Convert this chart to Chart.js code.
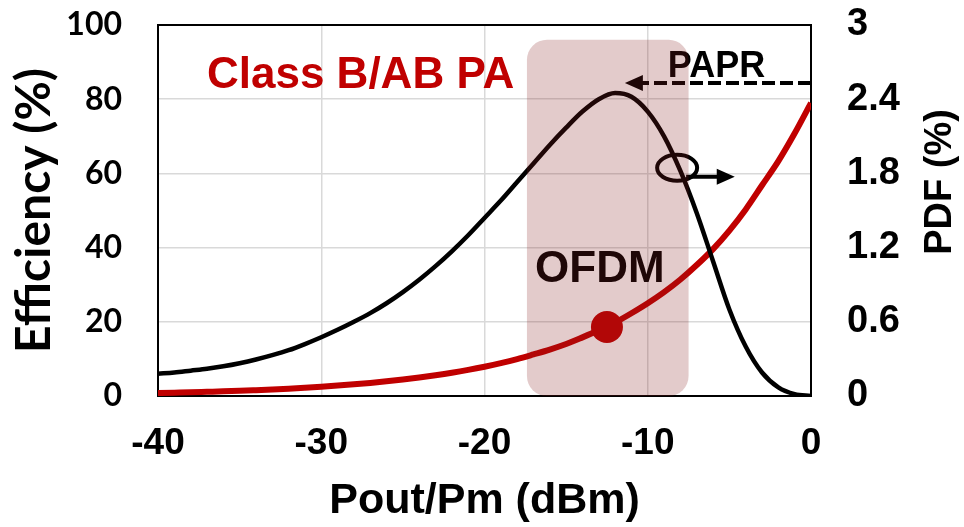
<!DOCTYPE html>
<html>
<head>
<meta charset="utf-8">
<script src="https://cdn.jsdelivr.net/npm/chart.js@4"></script>
<style>
  body { margin: 0; background: #fff; }
  canvas { display: block; }
</style>
</head>
<body>
<canvas id="paChart" width="964" height="527"></canvas>
<script>
// output power back-off (dB below peak)
const pout = [-40, -39, -38, -37, -36, -35, -34, -33, -32, -31, -30, -29, -28, -27, -26, -25, -24, -23, -22, -21,
  -20, -19, -18, -17, -16, -15, -14, -13, -12, -11, -10, -9, -8, -7, -6, -5, -4, -3, -2, -1, 0];

// drain efficiency of the class B/AB PA (%)
const efficiency = [0.79, 0.89, 0.99, 1.12, 1.25, 1.40, 1.58, 1.77, 1.98, 2.23, 2.50, 2.80, 3.15, 3.53, 3.96, 4.44, 4.98, 5.59, 6.27, 7.04,
  7.90, 8.86, 9.95, 11.2, 12.5, 14.0, 15.8, 17.7, 19.8, 22.3, 25.0, 28.0, 31.4, 35.3, 39.6, 44.6, 50.3, 56.8, 63.3, 70.8, 79.0];

// OFDM signal power distribution (%)
const pdf = [0.18, 0.19, 0.205, 0.22, 0.24, 0.265, 0.295, 0.33, 0.37, 0.42, 0.475, 0.535, 0.60, 0.67, 0.75, 0.84, 0.94, 1.05, 1.17, 1.30,
  1.44, 1.58, 1.73, 1.88, 2.03, 2.17, 2.30, 2.40, 2.45, 2.42, 2.30, 2.10, 1.82, 1.48, 1.09, 0.70, 0.40, 0.19, 0.07, 0.015, 0.0];

// average operating point
const avgPoint = { x: -12.5, y: 18.6 };

const xTicks = [-40, -30, -20, -10, 0];
const effTicks = [0, 20, 40, 60, 80, 100];
const pdfTicks = [0, 0.6, 1.2, 1.8, 2.4, 3];

// OFDM band and PAPR arrow, in axis units
const ofdmBand = [-17.4, -7.5];
const ofdmTop = 96;
const paprLevel = 84.4;
const paprTip = -11.4;

const arial = "'Liberation Sans', Arial, sans-serif";
const lato = "Lato, 'Open Sans', sans-serif";

function arrowHead(ctx, tipX, tipY, dir, len, half) {
  ctx.beginPath();
  ctx.moveTo(tipX, tipY);
  ctx.lineTo(tipX - dir * len, tipY - half);
  ctx.lineTo(tipX - dir * len, tipY + half);
  ctx.closePath();
  ctx.fill();
}

const annotations = {
  id: 'annotations',
  beforeDatasetsDraw(chart) {
    const { ctx, chartArea: a } = chart;
    ctx.save();
    ctx.strokeStyle = '#000';
    ctx.lineWidth = 2;
    ctx.strokeRect(a.left, a.top, a.right - a.left, a.bottom - a.top);
    ctx.restore();
  },
  afterDraw(chart) {
    const { ctx, chartArea: a } = chart;
    const x = chart.scales.x, y = chart.scales.y;
    ctx.save();

    // labels
    ctx.textBaseline = 'alphabetic';
    ctx.textAlign = 'left';
    ctx.fillStyle = '#c00000';
    ctx.font = `bold 44px ${arial}`;
    ctx.fillText('Class B/AB PA', x.getPixelForValue(-37.0), y.getPixelForValue(83.0));
    ctx.fillStyle = '#000';
    ctx.font = `bold 36px ${arial}`;
    ctx.fillText('PAPR', x.getPixelForValue(-8.77), y.getPixelForValue(86.0));
    ctx.font = `bold 44px ${arial}`;
    ctx.fillText('OFDM', x.getPixelForValue(-16.9), y.getPixelForValue(30.7));

    // PAPR dashed arrow
    const py = y.getPixelForValue(paprLevel);
    const tip = x.getPixelForValue(paprTip);
    ctx.strokeStyle = '#000';
    ctx.lineWidth = 4;
    ctx.setLineDash([13, 5]);
    ctx.beginPath();
    ctx.moveTo(a.right, py);
    ctx.lineTo(tip + 15, py);
    ctx.stroke();
    ctx.setLineDash([]);
    arrowHead(ctx, tip, py, -1, 18, 8);

    // axis marker: ellipse on the PDF curve pointing to the right axis
    const ex = x.getPixelForValue(-8.2), ey = y.getPixelForValue(61.5);
    ctx.lineWidth = 4;
    ctx.beginPath();
    ctx.ellipse(ex, ey, 20, 13, 0, 0, Math.PI * 2);
    ctx.stroke();
    const ay = ey + 9;
    const aTip = x.getPixelForValue(-4.67);
    ctx.beginPath();
    ctx.moveTo(ex + 9, ay);
    ctx.lineTo(aTip - 15, ay);
    ctx.stroke();
    arrowHead(ctx, aTip, ay, 1, 18, 8);

    // OFDM band shading
    const bx0 = x.getPixelForValue(ofdmBand[0]);
    const bx1 = x.getPixelForValue(ofdmBand[1]);
    const by0 = y.getPixelForValue(ofdmTop);
    ctx.fillStyle = 'rgba(135, 30, 30, 0.23)';
    ctx.beginPath();
    ctx.roundRect(bx0, by0, bx1 - bx0, a.bottom - by0, 20);
    ctx.fill();

    // right axis title, reading bottom to top
    ctx.fillStyle = '#000';
    ctx.font = `bold 38px ${arial}`;
    ctx.textAlign = 'center';
    ctx.textBaseline = 'middle';
    ctx.translate(941, 182);
    ctx.rotate(-Math.PI / 2);
    ctx.fillText('PDF (%)', 0, 0);
    ctx.restore();
  }
};

function fixedTicks(list) {
  return scale => { scale.ticks = list.map(v => ({ value: v })); };
}

function fitWidth(w) {
  return s => {
    s.width = w;
    s.paddingTop = 0;
    s.paddingBottom = 0;
  };
}

new Chart(document.getElementById('paChart'), {
  type: 'line',
  data: {
    datasets: [
      {
        label: 'Average point',
        data: [avgPoint],
        yAxisID: 'y',
        showLine: false,
        pointRadius: 16,
        pointBackgroundColor: '#c00000',
        pointBorderWidth: 0,
        order: 1
      },
      {
        label: 'PDF',
        data: pout.map((v, i) => ({ x: v, y: pdf[i] })),
        yAxisID: 'y2',
        borderColor: '#000',
        borderWidth: 4.5,
        pointRadius: 0,
        cubicInterpolationMode: 'monotone',
        order: 0
      },
      {
        label: 'Efficiency',
        data: pout.map((v, i) => ({ x: v, y: efficiency[i] })),
        yAxisID: 'y',
        borderColor: '#c00000',
        borderWidth: 6,
        pointRadius: 0,
        cubicInterpolationMode: 'monotone',
        order: 2
      }
    ]
  },
  options: {
    responsive: false,
    animation: false,
    devicePixelRatio: 1,
    layout: { padding: { top: 25, left: 0, right: 0, bottom: 0 } },
    plugins: { legend: { display: false }, tooltip: { enabled: false } },
    scales: {
      x: {
        type: 'linear',
        min: -40,
        max: 0,
        afterBuildTicks: fixedTicks(xTicks),
        afterFit(s) { s.height = 131; s.paddingLeft = 0; s.paddingRight = 0; },
        grid: { color: '#d9d9d9', lineWidth: 1.5, drawTicks: false },
        border: { display: false },
        ticks: { color: '#000', padding: 26, font: { family: arial, size: 37, weight: 'bold' } },
        title: {
          display: true,
          text: 'Pout/Pm (dBm)',
          color: '#000',
          padding: { top: 0, bottom: 0 },
          font: { family: arial, size: 43, weight: 'bold' }
        }
      },
      y: {
        position: 'left',
        min: 0,
        max: 100,
        afterBuildTicks: fixedTicks(effTicks),
        afterFit: fitWidth(158),
        grid: { color: '#d9d9d9', lineWidth: 1.5, drawTicks: false },
        border: { display: false },
        ticks: { color: '#000', padding: 36, font: { family: lato, size: 32, weight: 'bold' } },
        title: {
          display: true,
          text: 'Efficiency (%)',
          color: '#000',
          padding: { top: 6, bottom: 0 },
          font: { family: lato, size: 48, weight: 'bold' }
        }
      },
      y2: {
        position: 'right',
        min: 0,
        max: 3,
        afterBuildTicks: fixedTicks(pdfTicks),
        afterFit: fitWidth(153),
        grid: { display: false, drawTicks: false },
        border: { display: false },
        ticks: {
          color: '#000',
          padding: 36,
          font: { family: arial, size: 38, weight: 'bold' },
          callback: v => String(+v.toFixed(1))
        }
      }
    }
  },
  plugins: [annotations]
});
</script>
</body>
</html>
